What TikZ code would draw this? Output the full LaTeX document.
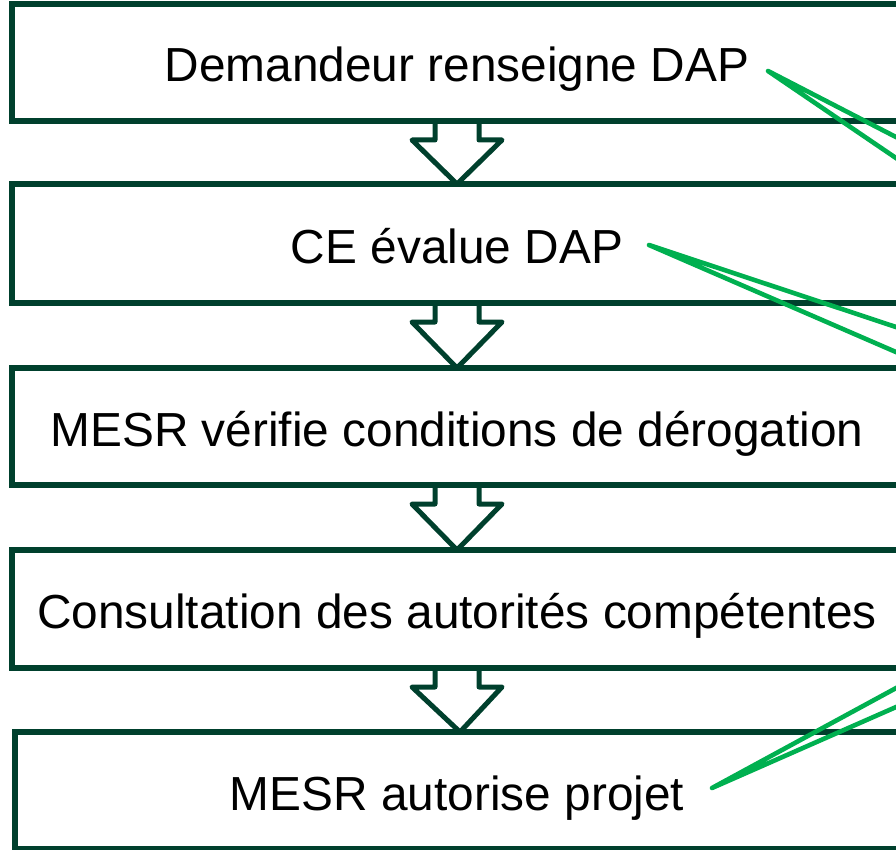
\documentclass[tikz,border=0pt]{standalone}
\usepackage{fontspec}
\setmainfont{Liberation Sans}
\usetikzlibrary{calc}
\definecolor{boxgreen}{RGB}{0,64,45}
\definecolor{callgreen}{RGB}{0,176,80}
\begin{document}
\begin{tikzpicture}[x=1pt,y=-1pt,
  stepbox/.style={draw=boxgreen, line width=5.5pt, rectangle, minimum width=890pt, inner sep=0pt, outer sep=0pt},
  steptext/.style={anchor=base, font=\fontsize{47.8}{58}\selectfont, inner sep=0pt, text=black},
  flowarrow/.style={draw=boxgreen, line width=5pt, line join=round},
  callout/.style={draw=callgreen, line width=4.6pt, line cap=round, line join=round}]
\useasboundingbox (0,0) rectangle (896,850);
\clip (0,0) rectangle (896,850);
% boxes
\node[stepbox, minimum height=117pt] (b1) at (457,62.5) {};
\node[stepbox, minimum height=119pt] (b2) at (457,243.5) {};
\node[stepbox, minimum height=117pt] (b3) at (457,426.5) {};
\node[stepbox, minimum height=118pt] (b4) at (457,609) {};
\node[stepbox, minimum height=117pt] (b5) at (460,790.5) {};
% texts
\node[steptext] (t1) at ($(b1.center)+(0,19.5)$) {Demandeur renseigne DAP};
\node[steptext] (t2) at ($(b2.center)+(0,19.5)$) {CE évalue DAP};
\node[steptext] (t3) at ($(b3.center)+(0,19.5)$) {MESR vérifie conditions de dérogation};
\node[steptext] (t4) at ($(b4.center)+(0,19.5)$) {Consultation des autorités compétentes};
\node[steptext] (t5) at ($(b5.center)+(-3,19.5)$) {MESR autorise projet};
% block arrows
\foreach \a/\b in {b1/b2, b2/b3, b3/b4, b4/b5}{
  \draw[flowarrow] ($(\a.south)+(-22,0)$) -- ++(0,19) -- ++(-23,0) -- (\b.north)
     -- ($(\a.south)+(45,19)$) -- ++(-23,0) -- ++(0,-19);
}
% callout lines
\coordinate (c1) at (768,71);
\coordinate (e1a) at (968,174.2);
\coordinate (e1b) at (968,207);
\coordinate (c2) at (649,245);
\coordinate (e2a) at (949,344.6);
\coordinate (e2b) at (949,375);
\coordinate (c3) at (712,788);
\coordinate (e3a) at (912,679.4);
\coordinate (e3b) at (912,700);
\draw[callout] (e1a) -- (c1) -- (e1b);
\draw[callout] (e2a) -- (c2) -- (e2b);
\draw[callout] (e3a) -- (c3) -- (e3b);
\end{tikzpicture}
\end{document}
